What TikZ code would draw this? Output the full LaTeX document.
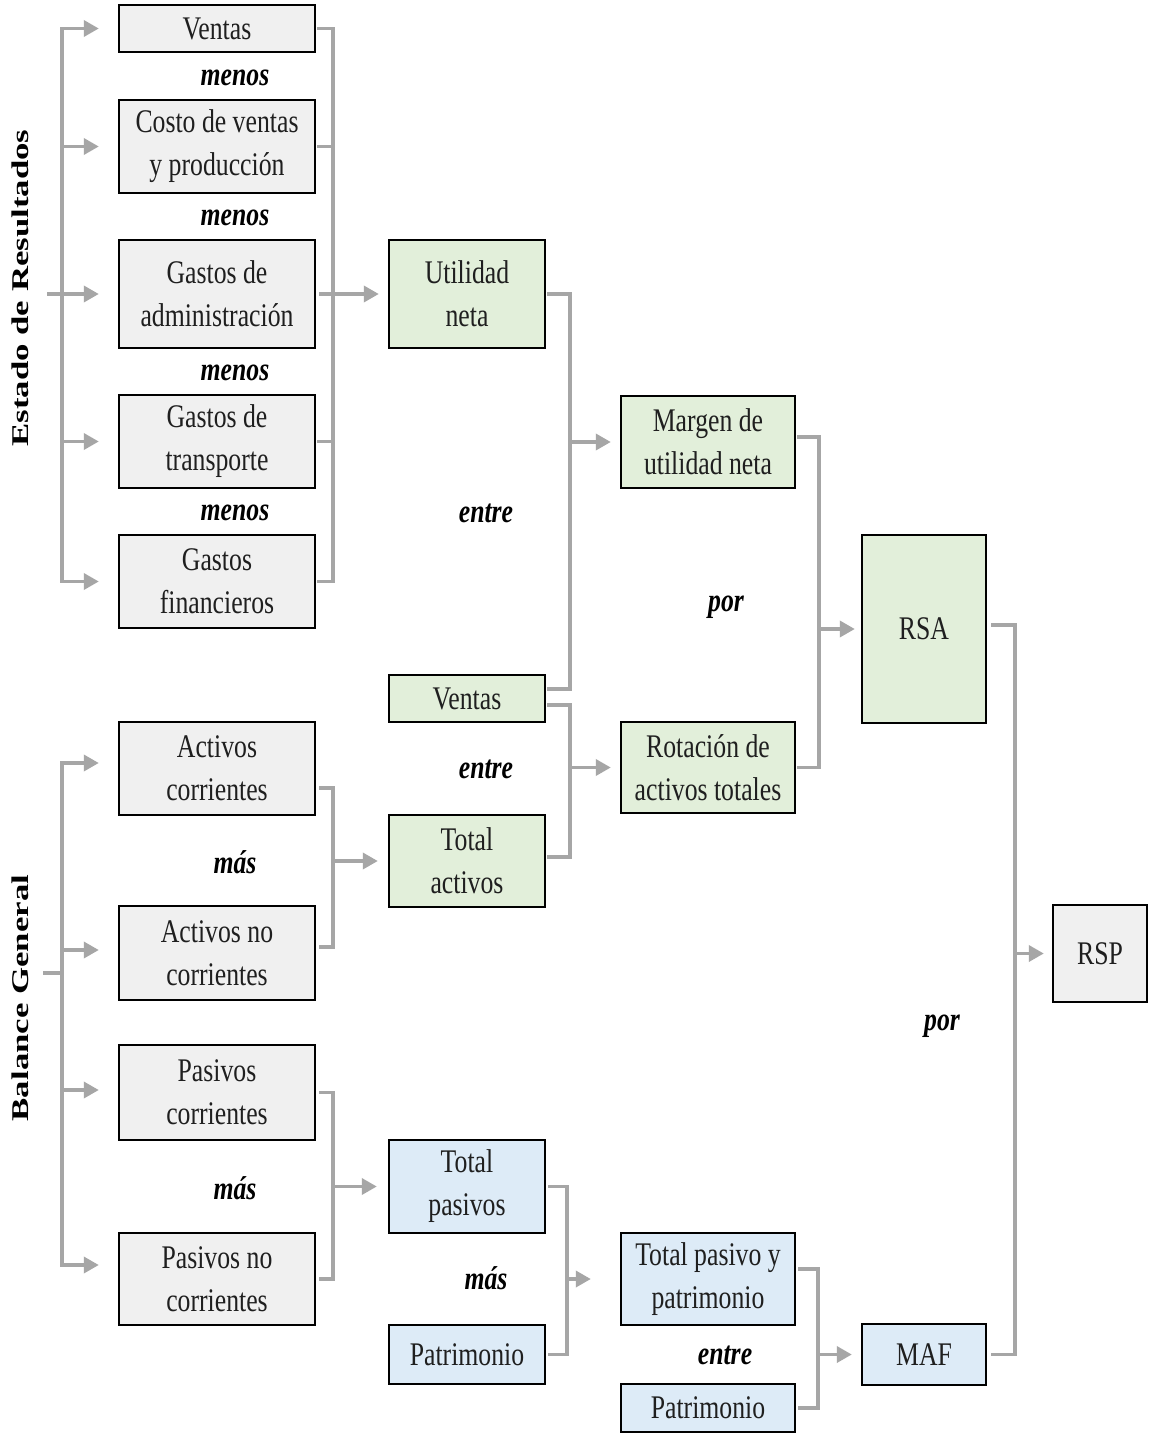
\documentclass[tikz,border=0pt]{standalone}
\usepackage{fontspec}
\setmainfont[FakeStretch=0.78]{Liberation Serif}
\newfontfamily\titlefont[FakeStretch=1.45]{Liberation Serif}
\usetikzlibrary{arrows.meta}
\definecolor{boxgray}{HTML}{F0F0F0}
\definecolor{boxgreen}{HTML}{E2EFDA}
\definecolor{boxblue}{HTML}{DDEBF7}
\definecolor{conngray}{HTML}{A6A6A6}
\definecolor{txt}{HTML}{1F1F1F}
\begin{document}
\begin{tikzpicture}[x=1pt,y=-1pt,
  box/.style={draw=black, line width=2.4pt, inner sep=0pt, align=center, text=txt, font=\fontsize{33}{43}\selectfont},
  gbox/.style={box, fill=boxgray},
  grbox/.style={box, fill=boxgreen},
  blbox/.style={box, fill=boxblue},
  cline/.style={draw=conngray, line width=3.5pt, line cap=rect},
  carr/.style={draw=conngray, line width=3.5pt, -{Triangle[length=15pt,width=16pt]}},
  op/.style={font=\fontsize{33}{43}\selectfont\bfseries\itshape, inner sep=0pt},
  vtitle/.style={font=\titlefont\fontsize{24}{28}\selectfont\bfseries, rotate=90, inner sep=0pt}
]
\fill[white] (0,0) rectangle (1149,1439);
\useasboundingbox (0,0) rectangle (1149,1439);

% titles
\node[vtitle] (ter) at (20,288) {Estado de Resultados};
\node[vtitle] (tbg) at (20,998) {Balance General};

% left column
\node[gbox, minimum width=196pt, minimum height=47pt] (v1) at (217,28.5) {Ventas};
\node[gbox, minimum width=196pt, minimum height=93pt] (costo) at (217,146.5) {Costo de ventas\\y producción};
\node[gbox, minimum width=196pt, minimum height=108pt] (gadm) at (217,294) {Gastos de\\administración};
\node[gbox, minimum width=196pt, minimum height=93pt] (gtrans) at (217,441.5) {Gastos de\\transporte};
\node[gbox, minimum width=196pt, minimum height=93pt] (gfin) at (217,581.5) {Gastos\\financieros};
\node[gbox, minimum width=196pt, minimum height=93pt] (actc) at (217,768.5) {Activos\\corrientes};
\node[gbox, minimum width=196pt, minimum height=94pt] (actnc) at (217,953) {Activos no\\corrientes};
\node[gbox, minimum width=196pt, minimum height=95pt] (pasc) at (217,1092.5) {Pasivos\\corrientes};
\node[gbox, minimum width=196pt, minimum height=92pt] (pasnc) at (217,1279) {Pasivos no\\corrientes};

% middle column
\node[grbox, minimum width=156pt, minimum height=108pt] (util) at (467,294) {Utilidad\\neta};
\node[grbox, minimum width=156pt, minimum height=47pt] (ventas2) at (467,698.5) {Ventas};
\node[grbox, minimum width=156pt, minimum height=92pt] (totact) at (467,861) {Total\\activos};
\node[blbox, minimum width=156pt, minimum height=93pt] (totpas) at (467,1186.5) {Total\\pasivos};
\node[blbox, minimum width=156pt, minimum height=59pt] (patr) at (467,1354.5) {Patrimonio};

% third column
\node[grbox, minimum width=174pt, minimum height=92pt] (margen) at (708,442) {Margen de\\utilidad neta};
\node[grbox, minimum width=174pt, minimum height=91pt] (rot) at (708,767.5) {Rotación de\\activos totales};
\node[blbox, minimum width=174pt, minimum height=92pt] (tpp) at (708,1279) {Total pasivo y\\patrimonio};
\node[blbox, minimum width=174pt, minimum height=48pt] (patr2) at (708,1408) {Patrimonio};

% fourth column
\node[grbox, minimum width=124pt, minimum height=188pt] (rsa) at (924,629) {RSA};
\node[blbox, minimum width=124pt, minimum height=61pt] (maf) at (924,1354.5) {MAF};
\node[gbox, minimum width=94pt, minimum height=97pt] (rsp) at (1100,953.5) {RSP};

% operator labels
\node[op] (m1) at (235,78) {menos};
\node[op] (m2) at (235,218) {menos};
\node[op] (m3) at (235,373) {menos};
\node[op] (m4) at (235,513) {menos};
\node[op] (e1) at (486,513) {entre};
\node[op] (p1) at (726,607) {por};
\node[op] (e2) at (486,769) {entre};
\node[op] (ms1) at (235,862) {más};
\node[op] (ms2) at (235,1188) {más};
\node[op] (ms3) at (486,1278) {más};
\node[op] (e3) at (725,1355) {entre};
\node[op] (p2) at (942,1026) {por};

% spine coordinates
\coordinate (s1) at (62,0);
\coordinate (s2) at (333,0);
\coordinate (s3) at (570,0);
\coordinate (s3b) at (567,0);
\coordinate (s4) at (819,0);
\coordinate (s4b) at (818,0);
\coordinate (s5) at (1015,0);
\coordinate (er) at (47,294);
\coordinate (bg) at (45,973);

% Estado de resultados: left bracket
\draw[cline] (s1 |- v1.west) -- (s1 |- gfin.west);
\draw[carr] (s1 |- v1.west) -- ([xshift=-19pt]v1.west);
\draw[carr] (s1 |- costo.west) -- ([xshift=-19pt]costo.west);
\draw[carr] (er) -- ([xshift=-19pt]gadm.west);
\draw[carr] (s1 |- gtrans.west) -- ([xshift=-19pt]gtrans.west);
\draw[carr] (s1 |- gfin.west) -- ([xshift=-19pt]gfin.west);

% Estado de resultados: right bracket
\draw[cline] ([xshift=3pt]v1.east) -| (s2 |- gfin.east) -- ([xshift=3pt]gfin.east);
\draw[cline] ([xshift=3pt]costo.east) -- (s2 |- costo.east);
\draw[cline] ([xshift=3pt]gtrans.east) -- (s2 |- gtrans.east);
\draw[carr] ([xshift=3pt]gadm.east) -- ([xshift=-9pt]util.west);

% Utilidad neta / Ventas -> Margen
\coordinate (v2a) at ([yshift=9.5pt]ventas2.east);
\coordinate (v2b) at ([yshift=-6.5pt]ventas2.east);
\coordinate (ta) at ([yshift=4pt]totact.east);
\draw[cline] ([xshift=3pt]util.east) -| (s3 |- v2a) -- ([xshift=3pt]v2a);
\draw[carr] (s3 |- margen.west) -- ([xshift=-9pt]margen.west);

% Ventas / Total activos -> Rotacion
\draw[cline] ([xshift=3pt]v2b) -| (s3 |- ta) -- ([xshift=3pt]ta);
\draw[carr] (s3 |- rot.west) -- ([xshift=-9pt]rot.west);

% Margen / Rotacion -> RSA
\coordinate (mg) at ([yshift=5pt]margen.east);
\draw[cline] ([xshift=3pt]mg) -| (s4 |- rot.east) -- ([xshift=3pt]rot.east);
\draw[carr] (s4 |- rsa.west) -- ([xshift=-6pt]rsa.west);

% RSA / MAF -> RSP
\coordinate (ra) at ([yshift=4pt]rsa.east);
\draw[cline] ([xshift=6pt]ra) -| (s5 |- maf.east) -- ([xshift=6pt]maf.east);
\draw[carr] (s5 |- rsp.west) -- ([xshift=-8pt]rsp.west);

% Balance general: left bracket
\coordinate (a1) at ([yshift=5.5pt]actc.west);
\coordinate (a2) at ([yshift=3pt]actnc.west);
\coordinate (a3) at ([yshift=2.5pt]pasc.west);
\coordinate (a4) at ([yshift=14pt]pasnc.west);
\draw[cline] (s1 |- a1) -- (s1 |- a4);
\draw[cline] (bg) -- (s1 |- bg);
\draw[carr] (s1 |- a1) -- ([xshift=-19pt]a1);
\draw[carr] (s1 |- a2) -- ([xshift=-19pt]a2);
\draw[carr] (s1 |- a3) -- ([xshift=-19pt]a3);
\draw[carr] (s1 |- a4) -- ([xshift=-19pt]a4);

% Activos bracket
\coordinate (b1) at ([yshift=-19.5pt]actc.east);
\coordinate (b2) at ([yshift=6pt]actnc.east);
\draw[cline] ([xshift=5pt]b1) -| (s2 |- b2) -- ([xshift=5pt]b2);
\draw[carr] (s2 |- totact.west) -- ([xshift=-10pt]totact.west);

% Pasivos bracket
\draw[cline] ([xshift=5pt]pasc.east) -| (s2 |- pasnc.east) -- ([xshift=5pt]pasnc.east);
\draw[carr] (s2 |- totpas.west) -- ([xshift=-11pt]totpas.west);

% Total pasivos / Patrimonio -> Total pasivo y patrimonio
\draw[cline] ([xshift=4pt]totpas.east) -| (s3b |- patr.east) -- ([xshift=4pt]patr.east);
\draw[carr] (s3b |- tpp.west) -- ([xshift=-29pt]tpp.west);

% Total pasivo y patrimonio / Patrimonio -> MAF
\coordinate (tp) at ([yshift=10pt]tpp.east);
\draw[cline] ([xshift=4pt]tp) -| (s4b |- patr2.east) -- ([xshift=4pt]patr2.east);
\draw[carr] (s4b |- maf.west) -- ([xshift=-9pt]maf.west);
\end{tikzpicture}
\end{document}
